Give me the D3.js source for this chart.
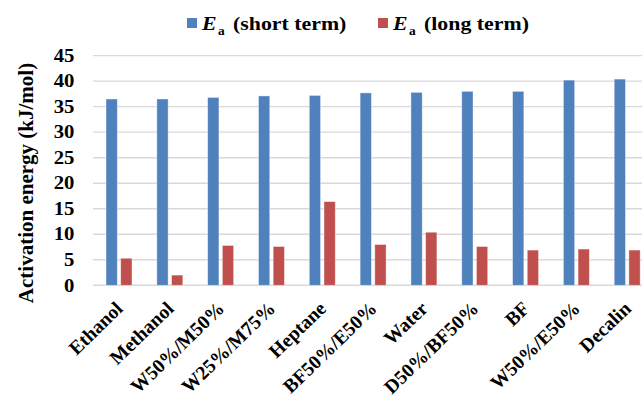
<!DOCTYPE html>
<html><head><meta charset="utf-8">
<script src="https://cdn.jsdelivr.net/npm/d3@7"></script>
<style>
body{margin:0;background:#fff}
svg{display:block}
</style>
</head><body><svg id="c" width="642" height="411"></svg>
<script>
const categories = ["Ethanol","Methanol","W50%/M50%","W25%/M75%","Heptane","BF50%/E50%","Water","D50%/BF50%","BF","W50%/E50%","Decalin"];
const shortTerm = [36.5,36.5,36.8,37.1,37.2,37.7,37.8,38.0,38.0,40.2,40.4];
const longTerm  = [5.3,2.0,7.8,7.6,16.4,8.0,10.4,7.6,6.9,7.1,6.9];
const yTicks = [0,5,10,15,20,25,30,35,40,45];
const seriesNames = ["(short term)","(long term)"];
const colors = ["#4F81BD","#C0504D"];

const FONT = '"Liberation Serif","Times New Roman",serif';
const svg = d3.select("#c");
const SX = 1.12; // horizontal stretch of the original picture
const x = d3.scaleBand().domain(categories).range([93.6, 652.6]);
const y = d3.scaleLinear().domain([0,45]).range([285.3, 55.6]);

function txt(sel){ return sel.style("font-family", FONT).style("font-weight","bold").attr("fill","#000"); }
function stretch(sel){
  sel.each(function(){
    const n = this.getComputedTextLength();
    if (n > 0) d3.select(this).attr("textLength", n*SX).attr("lengthAdjust","spacingAndGlyphs");
  });
  return sel;
}

// gridlines
svg.append("g").selectAll("line").data(yTicks).join("line")
  .attr("x1", 93).attr("x2", 642)
  .attr("y1", d => y(d)).attr("y2", d => y(d))
  .attr("stroke", "#D9D9D9").attr("stroke-width", 1.4);

// y tick labels
stretch(txt(svg.append("g").selectAll("text").data(yTicks).join("text"))
  .attr("text-anchor","end")
  .attr("font-size", 18.5)
  .attr("x", 74.5).attr("y", d => y(d)+6.2)
  .text(d => d));

// bars
const bw = x.bandwidth();
const barW = bw*0.222, gap = bw*0.067;
const series = [shortTerm, longTerm];
series.forEach((vals, si) => {
  svg.append("g").selectAll("rect").data(vals).join("rect")
    .attr("x", (d,i) => x(categories[i]) + bw/2 - barW - gap/2 + si*(barW+gap))
    .attr("width", barW)
    .attr("y", d => y(d))
    .attr("height", d => y(0) - y(d))
    .attr("fill", colors[si])
    .attr("stroke", "#ffffff").attr("stroke-opacity", 0.5).attr("stroke-width", 0.8);
});

// x labels
txt(svg.append("g").selectAll("text").data(categories).join("text"))
  .attr("text-anchor","end")
  .attr("font-size", 19.5)
  .attr("transform", d => `translate(${x(d)+bw/2+5},310) rotate(-44)`)
  .text(d => d);

// y title
txt(svg.append("text"))
  .attr("text-anchor","middle")
  .attr("font-size", 21)
  .attr("transform", `translate(33,183) rotate(-90)`)
  .text("Activation  energy (kJ/mol)");

// legend
const legX = [187, 378];
const lg = svg.append("g").selectAll("g").data(seriesNames).join("g")
  .attr("transform", (d,i) => `translate(${legX[i]},0)`);
lg.append("rect").attr("x",0).attr("y",18).attr("width",10).attr("height",10)
  .attr("fill",(d,i)=>colors[i]);
stretch(txt(lg.append("text")).attr("font-size",19.5).style("font-style","italic")
  .attr("x",15).attr("y",30).text("E"));
stretch(txt(lg.append("text")).attr("font-size",12)
  .attr("x",31).attr("y",35).text("a"));
stretch(txt(lg.append("text")).attr("font-size",19.5)
  .attr("x",46).attr("y",30).text(d => d));
</script>
</body></html>
